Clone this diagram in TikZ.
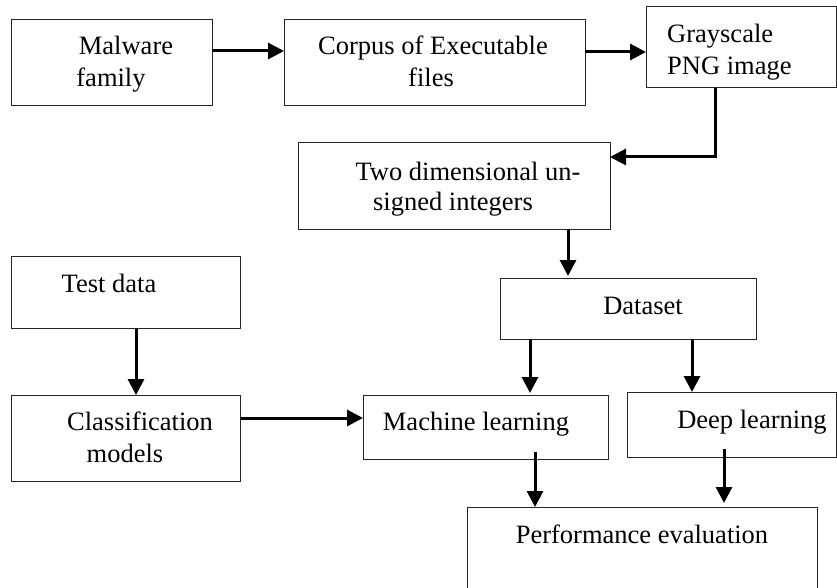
\documentclass[tikz,border=0pt]{standalone}
\usepackage{fontspec}
\setmainfont{Liberation Serif}
\usetikzlibrary{arrows.meta,calc}
\begin{document}
\begin{tikzpicture}[x=1pt,y=-1pt,
  box/.style={draw=black!85, line width=1pt, inner sep=0pt, outer sep=0pt, anchor=north west},
  lbl/.style={anchor=base, inner sep=0pt, font=\fontsize{26.5}{30}\selectfont},
  lbll/.style={anchor=base west, inner sep=0pt, font=\fontsize{26.5}{30}\selectfont},
  arr/.style={line width=3pt, -{Triangle[length=16pt,width=16pt]}}]
\useasboundingbox (0,0) rectangle (837,588);
\clip (0,0) rectangle (837,588);
% boxes
\node[box, minimum width=201pt, minimum height=86pt] (mal) at (11,20) {};
\node[box, minimum width=301pt, minimum height=86pt] (corpus) at (284,20) {};
\node[box, minimum width=190pt, minimum height=81pt] (gray) at (646,7) {};
\node[box, minimum width=312pt, minimum height=86pt] (two) at (298,143) {};
\node[box, minimum width=256pt, minimum height=61pt] (data) at (500,278) {};
\node[box, minimum width=229pt, minimum height=72pt] (test) at (11,256) {};
\node[box, minimum width=229pt, minimum height=86pt] (cls) at (11,395) {};
\node[box, minimum width=245pt, minimum height=64pt] (ml) at (363,395) {};
\node[box, minimum width=209pt, minimum height=65pt] (deep) at (627,392) {};
\node[box, minimum width=350pt, minimum height=100pt] (perf) at (467,507) {};
% labels
\node[lbl] (tmal1) at (126,55) {Malware};
\node[lbl] (tmal2) at (111,87) {family};
\node[lbl] (tcor1) at (433,55) {Corpus of Executable};
\node[lbl] (tcor2) at (431,87) {files};
\node[lbll] (tgr1) at (667,43) {Grayscale};
\node[lbll] (tgr2) at (667,75) {PNG image};
\node[lbl] (ttwo1) at (468,180) {Two dimensional un-};
\node[lbl] (ttwo2) at (453,210) {signed integers};
\node[lbl] (tdata) at (643,314) {Dataset};
\node[lbl] (ttest) at (109,292) {Test data};
\node[lbl] (tcls1) at (140,430) {Classification};
\node[lbl] (tcls2) at (125,462) {models};
\node[lbl] (tml) at (476,430) {Machine learning};
\node[lbl] (tdeep) at (752,428) {Deep learning};
\node[lbl] (tperf) at (642,543) {Performance evaluation};
% connectors
\draw[arr] (mal.east |- 0,51) -- (corpus.west |- 0,51);
\draw[arr] (corpus.east |- 0,52) -- (gray.west |- 0,52);
\draw[arr] (gray.south -| 715,0) |- (two.east |- 0,157);
\draw[arr] (two.south -| 568,0) -- ($(data.north -| 568,0)+(0,-2)$);
\draw[arr] (test.south -| 136,0) -- (cls.north -| 136,0);
\draw[arr] (cls.east |- 0,418) -- (ml.west |- 0,418);
\draw[arr] (data.south -| 530,0) -- ($(ml.north -| 530,0)+(0,-2)$);
\draw[arr] (data.south -| 692,0) -- (deep.north -| 692,0);
\draw[arr] ($(ml.south -| 535,0)+(0,-7)$) -- (perf.north -| 535,0);
\draw[arr] ($(deep.south -| 724,0)+(0,-8)$) -- ($(perf.north -| 724,0)+(0,-4)$);
\end{tikzpicture}
\end{document}
